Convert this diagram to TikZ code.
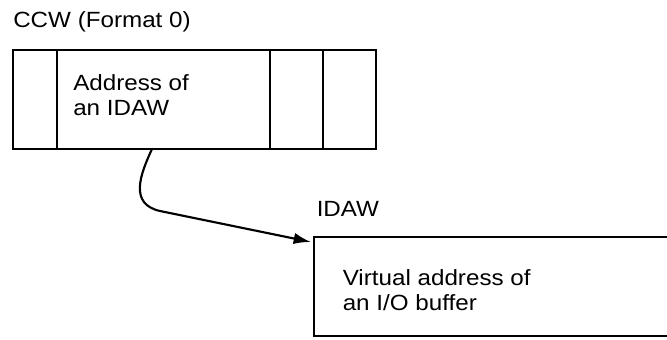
\documentclass[tikz,border=0pt]{standalone}
\usepackage{fontspec}
\setmainfont[FakeStretch=1.1]{Liberation Sans}
\usetikzlibrary{arrows.meta}

\tikzset{
  boxline/.style={line width=1.8pt, line join=miter},
  label/.style={anchor=base west, inner sep=0pt, align=left, font=\fontsize{16.5}{18.3}\selectfont},
  pointer/.style={line width=1.6pt, -{Latex[length=13pt,width=8.5pt]}}
}

\begin{document}
\begin{tikzpicture}[x=0.75pt,y=0.75pt,yscale=-1,xscale=1]
\useasboundingbox (0,0) rectangle (667,339);

%Shape: Rectangle [CCW]
\draw[boxline] (13,50) rectangle (376,149);
%Straight Lines [fields]
\draw[boxline] (57,50) -- (57,149);
\draw[boxline] (270,50) -- (270,149);
\draw[boxline] (323,50) -- (323,149);

%Shape: Open Rectangle [IDAW]
\draw[boxline] (675,237) -- (314,237) -- (314,336) -- (675,336);

% Text Node
\node[label] (ccwtitle) at (13,27) {CCW (Format 0)};
% Text Node (anchored on last line)
\node[label] (ccwaddr) at (73,115) {Address of\\an IDAW};
% Text Node
\node[label] (idawtitle) at (316.5,216.5) {IDAW};
% Text Node (anchored on last line)
\node[label] (idawaddr) at (342.5,310) {Virtual address of\\an I/O buffer};

%Curve Lines [pointer]
\coordinate (ccwout) at (152,149);
\coordinate (idawin) at (311,242);
\draw[pointer] (ccwout) .. controls (140,175) and (129,204) .. (160,211) -- (idawin);

\end{tikzpicture}
\end{document}
